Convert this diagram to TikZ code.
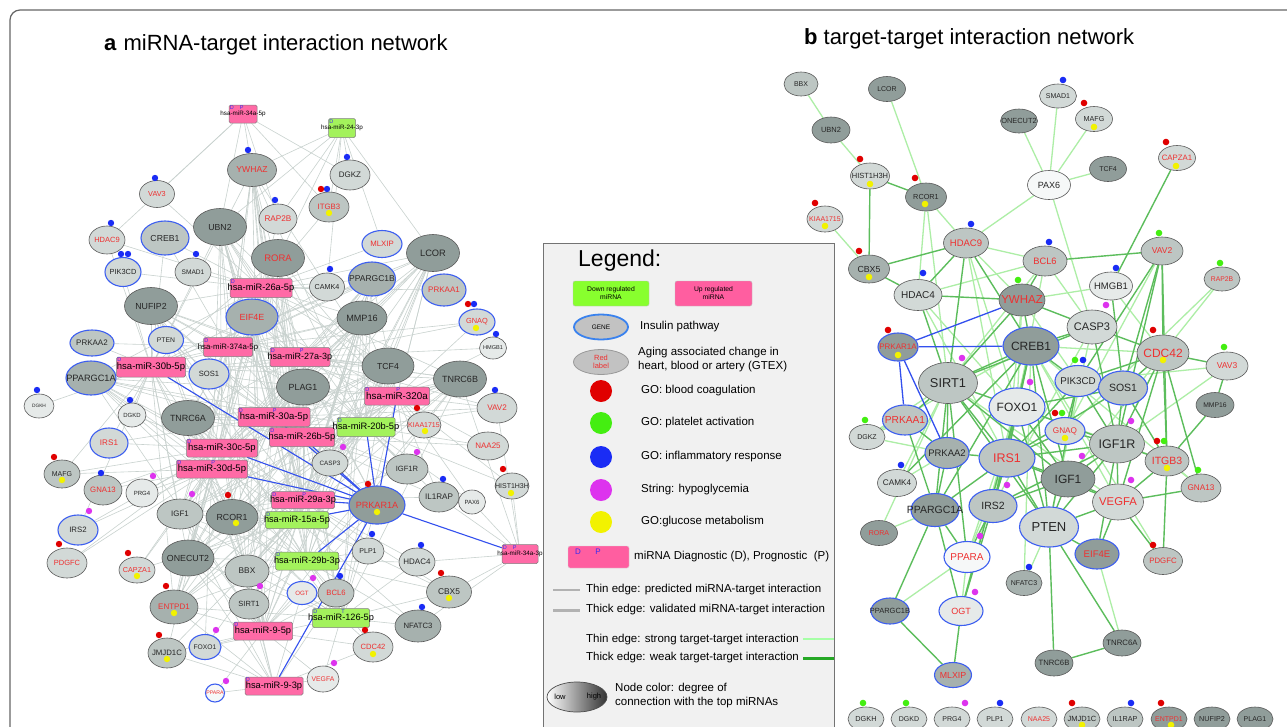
\documentclass[tikz,border=0pt]{standalone}
\usepackage{fontspec}
\setmainfont{Liberation Sans}
\usetikzlibrary{shapes.geometric,calc}
\pgfdeclarelayer{bg}
\pgfdeclarelayer{edges}
\pgfsetlayers{bg,edges,main}
\definecolor{g0}{HTML}{F6F8F8}
\definecolor{g1}{HTML}{E6EAE9}
\definecolor{g2}{HTML}{D2D9D7}
\definecolor{g3}{HTML}{BDC6C3}
\definecolor{g4}{HTML}{A6B1AE}
\definecolor{g5}{HTML}{909D9A}
\definecolor{insblue}{HTML}{3D5FF0}
\definecolor{insblue2}{HTML}{3A82EE}
\definecolor{agered}{HTML}{EE3030}
\definecolor{mpink}{HTML}{FF6AA6}
\definecolor{mgreen}{HTML}{A3F25C}
\definecolor{lpink}{HTML}{FF5EA0}
\definecolor{lgreen2}{HTML}{88FF2E}
\definecolor{lgray}{HTML}{C2C2C2}
\definecolor{legbg}{HTML}{F1F1F1}
\definecolor{dpblue}{HTML}{3A2CF0}
\definecolor{cR}{HTML}{E00000}
\definecolor{cG}{HTML}{44EE11}
\definecolor{cB}{HTML}{1A2CF5}
\definecolor{cM}{HTML}{DD33EE}
\definecolor{cY}{HTML}{F2F200}
\definecolor{gE}{HTML}{C9D2CF}
\definecolor{bE}{HTML}{3350EE}
\definecolor{lgE}{HTML}{ADEEA6}
\definecolor{dgE}{HTML}{5CBD5C}
\newcommand{\nlbl}[1]{\makebox[0pt]{#1}}
\begin{document}
\begin{tikzpicture}[x=1pt,y=-1pt,
  gene/.style={ellipse, draw=black!65, line width=0.6pt, inner sep=0pt, text=black!85},
  ins/.style={draw=insblue, line width=1.1pt},
  age/.style={text=agered},
  fs/.style={font=\fontsize{#1}{#1}\selectfont},
  wh/.style 2 args={minimum width=#1, minimum height=#2},
  mir/.style={rectangle, rounded corners=1.5pt, draw=black!50, line width=0.5pt, inner sep=0pt, text=black},
  mup/.style={mir, fill=mpink},
  mdown/.style={mir, fill=mgreen},
  dpl/.style={anchor=north west, text=dpblue, font=\fontsize{5.5}{5.5}\selectfont, inner sep=0.8pt},
  dl/.style={label={[dpl]north west:D}},
  pl/.style={label={[dpl, xshift=#1]north west:P}},
  tml/.style={label={[dpl, xshift=#1]north west:T}},
  gedge/.style={draw=gE, line width=0.6pt},
  bedge/.style={draw=bE, line width=1.1pt},
  lgr/.style={draw=lgE, line width=1.3pt},
  dgr/.style={draw=dgE, line width=1.4pt},
  leg/.style={anchor=west, font=\fontsize{11.5}{14}\selectfont, inner sep=0pt, align=left},
  ttl/.style={anchor=west, font=\fontsize{22}{22}\selectfont, inner sep=0pt}
]
\useasboundingbox (0,0) rectangle (1287,726);
\begin{pgfonlayer}{bg}
\fill[white] (0,0) rectangle (1287,726);
\end{pgfonlayer}
\draw[black!60, line width=1.2pt, rounded corners=10pt] (10,740) -- (10,10) -- (1300,10);

% titles
\node[ttl] (ta) at (104,45) {\textbf{a}\hspace{7pt}miRNA-target interaction network};
\node[ttl] (tb) at (804,39) {\textbf{b}\hspace{6pt}target-target interaction network};

% ================= PANEL A genes =================
\node[gene, fill=g4, wh={49}{33}, fs=8.6, age] (aYWHAZ) at (252,170) {\nlbl{YWHAZ}};
\node[gene, fill=g2, wh={35}{27}, fs=7.3, age] (aVAV3) at (157,194) {\nlbl{VAV3}};
\node[gene, fill=g5, wh={53}{37}, fs=8.7] (aUBN2) at (220,227) {\nlbl{UBN2}};
\node[gene, fill=g2, wh={38}{30}, fs=8.2, age] (aRAP2B) at (278,219) {\nlbl{RAP2B}};
\node[gene, fill=g2, wh={36}{28}, fs=7.5, age] (aHDAC9) at (107,240) {\nlbl{HDAC9}};
\node[gene, fill=g3, wh={48}{34}, fs=8.7, ins] (aCREB1) at (165,238) {\nlbl{CREB1}};
\node[gene, fill=g5, wh={53}{37}, fs=9.5, age] (aRORA) at (278,258) {\nlbl{RORA}};
\node[gene, fill=g2, wh={36}{29}, fs=7.4, ins] (aPIK3CD) at (123,272) {\nlbl{PIK3CD}};
\node[gene, fill=g2, wh={36}{28}, fs=6.6] (aSMAD1) at (193,272) {\nlbl{SMAD1}};
\node[gene, fill=g5, wh={53}{37}, fs=8.8] (aNUFIP2) at (151,306) {\nlbl{NUFIP2}};
\node[gene, fill=g2, wh={40}{30}, fs=8] (aDGKZ) at (350,175) {\nlbl{DGKZ}};
\node[gene, fill=g3, wh={40}{30}, fs=7.8, age] (aITGB3) at (329,207) {\nlbl{ITGB3}};
\node[gene, fill=g2, wh={40}{27}, fs=7.8, age, ins] (aMLXIP) at (382,244) {\nlbl{MLXIP}};
\node[gene, fill=g5, wh={53}{37}, fs=9.3] (aLCOR) at (433,253) {\nlbl{LCOR}};
\node[gene, fill=g2, wh={35}{28}, fs=7.2] (aCAMK4) at (327,287) {\nlbl{CAMK4}};
\node[gene, fill=g4, wh={47}{34}, fs=8.5, ins] (aPPARGC1B) at (372,279) {\nlbl{PPARGC1B}};
\node[gene, fill=g3, wh={44}{32}, fs=8, age, ins] (aPRKAA1) at (444,290) {\nlbl{PRKAA1}};
\node[gene, fill=g4, wh={52}{36}, fs=8.9, age, ins] (aEIF4E) at (252,317) {\nlbl{EIF4E}};
\node[gene, fill=g2, wh={35}{27}, fs=6.8, ins] (aPTEN) at (166,340) {\nlbl{PTEN}};
\node[gene, fill=g3, wh={44}{26}, fs=8, ins] (aPRKAA2) at (92,343) {\nlbl{PRKAA2}};
\node[gene, fill=g4, wh={50}{34}, fs=9.2, ins] (aPPARGC1A) at (91,378) {\nlbl{PPARGC1A}};
\node[gene, fill=g2, wh={40}{30}, fs=7.6, ins] (aSOS1) at (209,374) {\nlbl{SOS1}};
\node[gene, fill=g1, wh={30}{24}, fs=4.8] (aDGKH) at (39,406) {\nlbl{DGKH}};
\node[gene, fill=g1, wh={28}{24}, fs=6] (aDGKD) at (132,415) {\nlbl{DGKD}};
\node[gene, fill=g5, wh={53}{35}, fs=9] (aTNRC6A) at (188,418) {\nlbl{TNRC6A}};
\node[gene, fill=g2, wh={38}{30}, fs=8.1, age, ins] (aIRS1) at (109,443) {\nlbl{IRS1}};
\node[gene, fill=g3, wh={36}{28}, fs=7] (aMAFG) at (62,474) {\nlbl{MAFG}};
\node[gene, fill=g3, wh={38}{30}, fs=7.8, age] (aGNA13) at (103,490) {\nlbl{GNA13}};
\node[gene, fill=g1, wh={32}{28}, fs=6] (aPRG4) at (142,493) {\nlbl{PRG4}};
\node[gene, fill=g3, wh={46}{30}, fs=7.9] (aIGF1) at (180,514) {\nlbl{IGF1}};
\node[gene, fill=g5, wh={52}{35}, fs=8.8] (aRCOR1) at (232,517) {\nlbl{RCOR1}};
\node[gene, fill=g5, wh={50}{34}, fs=9.1] (aMMP16) at (362,318) {\nlbl{MMP16}};
\node[gene, fill=g2, wh={36}{26}, fs=7.4, age, ins] (aGNAQ) at (477,322) {\nlbl{GNAQ}};
\node[gene, fill=g1, wh={27}{22}, fs=5.6] (aHMGB1) at (493,348) {\nlbl{HMGB1}};
\node[gene, fill=g5, wh={52}{36}, fs=8.7] (aTCF4) at (388,366) {\nlbl{TCF4}};
\node[gene, fill=g5, wh={53}{36}, fs=8.9] (aPLAG1) at (303,387) {\nlbl{PLAG1}};
\node[gene, fill=g5, wh={53}{36}, fs=9] (aTNRC6B) at (460,379) {\nlbl{TNRC6B}};
\node[gene, fill=g2, wh={40}{30}, fs=8.1, age] (aVAV2) at (497,408) {\nlbl{VAV2}};
\node[gene, fill=g2, wh={34}{26}, fs=7, age] (aKIAA1715) at (424,425) {\nlbl{KIAA1715}};
\node[gene, fill=g2, wh={41}{28}, fs=8, age] (aNAA25) at (488,446) {\nlbl{NAA25}};
\node[gene, fill=g2, wh={36}{26}, fs=6.3] (aCASP3) at (330,463) {\nlbl{CASP3}};
\node[gene, fill=g3, wh={42}{30}, fs=7.6] (aIGF1R) at (407,469) {\nlbl{IGF1R}};
\node[gene, fill=g3, wh={40}{30}, fs=8.1] (aIL1RAP) at (439,497) {\nlbl{IL1RAP}};
\node[gene, fill=g1, wh={27}{24}, fs=6] (aPAX6) at (472,502) {\nlbl{PAX6}};
\node[gene, fill=g2, wh={34}{26}, fs=7] (aHIST1H3H) at (512,486) {\nlbl{HIST1H3H}};
\node[gene, fill=g5, wh={56}{38}, fs=9.1, age, ins] (aPRKAR1A) at (377,505) {\nlbl{PRKAR1A}};
\node[gene, fill=g2, wh={40}{30}, fs=7.8, ins] (aIRS2) at (78,530) {\nlbl{IRS2}};
\node[gene, fill=g2, wh={40}{30}, fs=7.5, age] (aPDGFC) at (67,563) {\nlbl{PDGFC}};
\node[gene, fill=g2, wh={36}{26}, fs=7.2, age] (aCAPZA1) at (137,570) {\nlbl{CAPZA1}};
\node[gene, fill=g5, wh={52}{36}, fs=8.8] (aONECUT2) at (188,558) {\nlbl{ONECUT2}};
\node[gene, fill=g3, wh={44}{32}, fs=8.3] (aBBX) at (247,571) {\nlbl{BBX}};
\node[gene, fill=g4, wh={48}{34}, fs=8, age] (aENTPD1) at (174,607) {\nlbl{ENTPD1}};
\node[gene, fill=g3, wh={40}{30}, fs=7.5] (aSIRT1) at (249,604) {\nlbl{SIRT1}};
\node[gene, fill=g3, wh={38}{30}, fs=7.8] (aJMJD1C) at (167,653) {\nlbl{JMJD1C}};
\node[gene, fill=g2, wh={32}{25}, fs=6.7, ins] (aFOXO1) at (205,647) {\nlbl{FOXO1}};
\node[gene, fill=g0, wh={19}{18}, fs=5.2, age, ins] (aPPARA) at (215,693) {\nlbl{PPARA}};
\node[gene, fill=g2, wh={32}{26}, fs=7] (aPLP1) at (368,551) {\nlbl{PLP1}};
\node[gene, fill=g2, wh={36}{28}, fs=8] (aHDAC4) at (417,562) {\nlbl{HDAC4}};
\node[gene, fill=g3, wh={45}{32}, fs=8.4] (aCBX5) at (449,592) {\nlbl{CBX5}};
\node[gene, fill=g1, wh={30}{23}, fs=6.2, age, ins] (aOGT) at (302,593) {\nlbl{OGT}};
\node[gene, fill=g3, wh={36}{28}, fs=7.7, age] (aBCL6) at (336,593) {\nlbl{BCL6}};
\node[gene, fill=g4, wh={46}{32}, fs=7.7] (aNFATC3) at (418,626) {\nlbl{NFATC3}};
\node[gene, fill=g2, wh={40}{30}, fs=7.6, age] (aCDC42) at (373,647) {\nlbl{CDC42}};
\node[gene, fill=g1, wh={32}{26}, fs=6.8, age] (aVEGFA) at (323,679) {\nlbl{VEGFA}};

% ================= PANEL A miRNAs =================
\node[mup, wh={28}{18}, fs=6.3, dl, pl=10pt] (m34a5p) at (243,114) {\nlbl{hsa-miR-34a-5p}};
\node[mdown, wh={27}{19}, fs=6.3, dl] (m243p) at (342,128) {\nlbl{hsa-miR-24-3p}};
\node[mup, wh={62}{19}, fs=9.3, dl] (m26a) at (261,288) {\nlbl{hsa-miR-26a-5p}};
\node[mup, wh={49}{19}, fs=7.8, dl] (m374a) at (228,347) {\nlbl{hsa-miR-374a-5p}};
\node[mup, wh={69}{20}, fs=9.5, dl] (m30b) at (151,367) {\nlbl{hsa-miR-30b-5p}};
\node[mup, wh={60}{19}, fs=9, dl, pl=29pt] (m27a) at (300,357) {\nlbl{hsa-miR-27a-3p}};
\node[mup, wh={65}{18}, fs=9.8, dl, pl=31pt] (m320a) at (397,396) {\nlbl{hsa-miR-320a}};
\node[mup, wh={72}{19}, fs=9.5, dl, pl=34pt] (m30a) at (274,417) {\nlbl{hsa-miR-30a-5p}};
\node[mup, wh={65}{19}, fs=9.3, dl] (m26b) at (302,437) {\nlbl{hsa-miR-26b-5p}};
\node[mdown, wh={58}{19}, fs=9.3, dl] (m20b) at (366,427) {\nlbl{hsa-miR-20b-5p}};
\node[mup, wh={71}{18}, fs=9.5, dl] (m30c) at (222,448) {\nlbl{hsa-miR-30c-5p}};
\node[mup, wh={71}{18}, fs=9.5, dl, pl=34pt] (m30d) at (212,469) {\nlbl{hsa-miR-30d-5p}};
\node[mup, wh={63}{17}, fs=9.2, dl, pl=30pt] (m29a) at (303,500) {\nlbl{hsa-miR-29a-3p}};
\node[mdown, wh={63}{17}, fs=9.2, dl] (m15a) at (297,520) {\nlbl{hsa-miR-15a-5p}};
\node[mdown, wh={63}{18}, fs=9.2, dl] (m29b) at (307,561) {\nlbl{hsa-miR-29b-3p}};
\node[mup, wh={36}{19}, fs=6.3, dl, pl=10pt] (m34a3p) at (520,554) {\nlbl{hsa-miR-34a-3p}};
\node[mdown, wh={57}{19}, fs=9.2, dl, tml=28pt] (m126) at (341,618) {\nlbl{hsa-miR-126-5p}};
\node[mup, wh={59}{18}, fs=9.3, dl] (m95p) at (263,631) {\nlbl{hsa-miR-9-5p}};
\node[mup, wh={58}{18}, fs=9.3, dl] (m93p) at (274,686) {\nlbl{hsa-miR-9-3p}};

% ================= PANEL A edges =================
\def\Dset{aUBN2,aRORA,aNUFIP2,aLCOR,aYWHAZ,aMMP16,aTCF4,aPLAG1,aTNRC6B,aTNRC6A,aRCOR1,aONECUT2,aEIF4E,aPPARGC1A,aPPARGC1B,aENTPD1,aBBX,aIGF1,aPRKAR1A}
\begin{pgfonlayer}{edges}
\foreach \m in {m26a,m374a,m30b,m27a,m320a,m30a,m26b,m20b,m30c,m30d,m29a,m15a,m29b,m126,m95p}{
  \foreach \t in \Dset {\draw[gedge] (\m) -- (\t);}
}
\foreach \t in {aCREB1,aSMAD1,aCAMK4,aRAP2B,aVAV3,aITGB3,aMLXIP,aHDAC9,aPIK3CD,aPRKAA1}{\draw[gedge] (m26a) -- (\t);}
\foreach \t in {aPTEN,aSOS1,aPRKAA2,aCAMK4,aCREB1,aGNAQ}{\draw[gedge] (m374a) -- (\t);}
\foreach \t in {aPRKAA2,aDGKH,aDGKD,aIRS1,aPTEN,aSOS1,aCREB1,aPIK3CD,aHDAC9,aMAFG,aIRS2}{\draw[gedge] (m30b) -- (\t);}
\foreach \t in {aGNAQ,aHMGB1,aVAV2,aKIAA1715,aSOS1,aCASP3,aIGF1R}{\draw[gedge] (m27a) -- (\t);}
\foreach \t in {aVAV2,aKIAA1715,aNAA25,aHIST1H3H,aGNAQ,aHMGB1,aIL1RAP,aPAX6,aIGF1R}{\draw[gedge] (m320a) -- (\t);}
\foreach \t in {aCASP3,aSOS1,aIRS1,aIGF1R,aVAV2}{\draw[gedge] (m30a) -- (\t);}
\foreach \t in {aCASP3,aIGF1R,aIL1RAP,aNAA25,aPTEN}{\draw[gedge] (m26b) -- (\t);}
\foreach \t in {aKIAA1715,aIGF1R,aIL1RAP,aCASP3,aNAA25,aVAV2,aHIST1H3H,aPAX6}{\draw[gedge] (m20b) -- (\t);}
\foreach \t in {aIRS1,aGNA13,aPRG4,aMAFG,aDGKD,aIRS2,aCAPZA1,aPDGFC}{\draw[gedge] (m30c) -- (\t);}
\foreach \t in {aGNA13,aPRG4,aIRS2,aPDGFC,aCAPZA1,aJMJD1C,aFOXO1,aMAFG}{\draw[gedge] (m30d) -- (\t);}
\foreach \t in {aCASP3,aIGF1R,aPLP1,aHDAC4,aSIRT1,aCBX5,aIL1RAP}{\draw[gedge] (m29a) -- (\t);}
\foreach \t in {aSIRT1,aPLP1,aCAPZA1,aJMJD1C,aFOXO1,aCBX5,aNFATC3}{\draw[gedge] (m15a) -- (\t);}
\foreach \t in {aPLP1,aHDAC4,aCBX5,aNFATC3,aCDC42,aSIRT1,aBCL6}{\draw[gedge] (m29b) -- (\t);}
\foreach \t in {aBCL6,aOGT,aCDC42,aVEGFA,aNFATC3,aCBX5,aHDAC4,aFOXO1}{\draw[gedge] (m126) -- (\t);}
\foreach \t in {aFOXO1,aJMJD1C,aSIRT1,aOGT,aBCL6,aVEGFA,aCDC42,aPPARA}{\draw[gedge] (m95p) -- (\t);}
\foreach \t in {aVEGFA,aPPARA,aFOXO1,aSIRT1,aBCL6,aOGT,aJMJD1C,aBBX,aONECUT2,aENTPD1,aCDC42,aRCOR1,aIGF1}{\draw[gedge] (m93p) -- (\t);}
\foreach \t in {aVAV3,aYWHAZ,aRAP2B,aITGB3,aDGKZ,aUBN2,aHDAC9}{\draw[gedge] (m34a5p) -- (\t);}
\foreach \t in {aYWHAZ,aDGKZ,aITGB3,aRAP2B,aCAMK4,aLCOR,aRORA,aUBN2,aMLXIP}{\draw[gedge] (m243p) -- (\t);}
\foreach \t in {aHIST1H3H,aPAX6,aCBX5,aHDAC4,aNFATC3,aIL1RAP,aTNRC6B,aVAV2}{\draw[gedge] (m34a3p) -- (\t);}
\foreach \m in {m30b,m30a,m26b,m30c,m30d,m29a,m15a,m29b,m20b,m320a,m34a3p,m93p}{\draw[bedge] (\m) -- (aPRKAR1A);}
\end{pgfonlayer}

% ================= PANEL A dots =================
\foreach \x/\y in {248/150,155/178,275/200,111/223,121/254,128/254,196/254,347/157,327/189,330/269,474/304,496/334,37/390,130/400,101/473,495/390,443/479,372/534,421/545,340/576,422/607}{\fill[cB] (\x,\y) circle (3.2);}
\foreach \x/\y in {321/189,468/304,54/457,228/495,417/408,503/469,368/484,59/544,128/553,166/586,159/635,441/573,365/630}{\fill[cR] (\x,\y) circle (3.2);}
\foreach \x/\y in {153/476,192/494,343/447,417/452,89/511,260/586,216/630,226/681,313/578,334/663}{\fill[cM] (\x,\y) circle (3.2);}
\foreach \x/\y in {329/213,476/328,62/480,236/523,425/431,511/493,377/512,137/576,174/613,167/659,449/598,373/654}{\fill[cY] (\x,\y) circle (3.2);}

% ================= LEGEND =================
\draw[draw=black!55, fill=legbg, line width=0.8pt] (543,243) rectangle (834,745);
\node[anchor=west, inner sep=0pt, font=\fontsize{23}{23}\selectfont] (lgT) at (578,261) {Legend:};
\node[rectangle, rounded corners=2pt, fill=lgreen2, draw=black!25, minimum width=76, minimum height=25, align=center, inner sep=0pt, font=\fontsize{6.8}{8}\selectfont] (lgDown) at (611,293.5) {Down regulated\\miRNA};
\node[rectangle, rounded corners=2pt, fill=lpink, draw=black!25, minimum width=77, minimum height=25, align=center, inner sep=0pt, font=\fontsize{6.8}{8}\selectfont] (lgUp) at (713.5,293.5) {Up regulated\\miRNA};
\node[ellipse, fill=lgray, draw=insblue2, line width=1.8pt, minimum width=54, minimum height=25, inner sep=0pt, fs=6.5] (lgGene) at (601,327) {GENE};
\node[leg] (lgIns) at (640,327) {Insulin pathway};
\node[ellipse, fill=lgray, draw=black!40, line width=0.8pt, minimum width=55, minimum height=25, inner sep=0pt, align=center, text=agered, font=\fontsize{7.5}{8.5}\selectfont] (lgRed) at (601,362) {Red\\label};
\node[leg] (lgAge) at (638,360) {Aging associated change in\\heart, blood or artery (GTEX)};
\fill[cR] (601,391) circle (11);
\fill[cG] (601,423) circle (11);
\fill[cB] (601,457) circle (11);
\fill[cM] (601,490) circle (11);
\fill[cY] (601,522) circle (11);
\node[leg] (lgRd) at (641,391) {GO: blood coagulation};
\node[leg] (lgGr) at (641,423) {GO: platelet activation};
\node[leg] (lgBl) at (641,457) {GO: inflammatory response};
\node[leg] (lgMg) at (641,490) {String: hypoglycemia};
\node[leg] (lgYl) at (641,522) {GO:glucose metabolism};
\node[rectangle, rounded corners=2pt, fill=lpink, draw=black!15, minimum width=61, minimum height=22, inner sep=0pt] (lgDP) at (598.5,557) {};
\node[text=dpblue, inner sep=0pt, fs=8] (lgD) at (578,552) {D};
\node[text=dpblue, inner sep=0pt, fs=8] (lgP) at (598,552) {P};
\node[leg] (lgDPt) at (634,557) {miRNA Diagnostic (D), Prognostic\ \ (P)};
\coordinate (l1a) at (553,590); \coordinate (l1b) at (580,590);
\coordinate (l2a) at (553,610); \coordinate (l2b) at (580,610);
\coordinate (l3a) at (803,639); \coordinate (l3b) at (834,639);
\coordinate (l4a) at (803,658); \coordinate (l4b) at (834,658);
\draw[draw=black!30, line width=1.2pt] (l1a) -- (l1b);
\draw[draw=black!30, line width=3pt] (l2a) -- (l2b);
\draw[draw=green!35, line width=1.5pt] (l3a) -- (l3b);
\draw[draw=green!60!black!85, line width=3pt] (l4a) -- (l4b);
\node[leg] (lgThin) at (586,590) {Thin edge: predicted miRNA-target interaction};
\node[leg] (lgThick) at (586,610) {Thick edge: validated miRNA-target interaction};
\node[leg] (lgStrong) at (586,640) {Thin edge: strong target-target interaction};
\node[leg] (lgWeak) at (586,658) {Thick edge: weak target-target interaction};
\node[ellipse, draw=black!70, line width=0.7pt, left color=white, right color=black!80, minimum width=60, minimum height=30, inner sep=0pt] (lgGrad) at (577,697) {};
\node[inner sep=0pt, fs=7.5] (lgLow) at (560,697) {low};
\node[inner sep=0pt, fs=7.5] (lgHigh) at (594,697) {high};
\node[leg] (lgNode) at (615,696) {Node color: degree of\\connection with the top miRNAs};

% ================= PANEL B genes =================
\node[gene, fill=g3, wh={34}{24}, fs=7] (bBBX) at (801,84) {\nlbl{BBX}};
\node[gene, fill=g5, wh={37}{25}, fs=7] (bLCOR) at (887,89) {\nlbl{LCOR}};
\node[gene, fill=g5, wh={38}{26}, fs=7.5] (bUBN2) at (831,130) {\nlbl{UBN2}};
\node[gene, fill=g2, wh={37}{24}, fs=7] (bSMAD1) at (1058,96) {\nlbl{SMAD1}};
\node[gene, fill=g5, wh={37}{24}, fs=7.4] (bONECUT2) at (1019,121) {\nlbl{ONECUT2}};
\node[gene, fill=g2, wh={37}{25}, fs=7.2] (bMAFG) at (1094,119) {\nlbl{MAFG}};
\node[gene, fill=g2, wh={39}{26}, fs=7.5] (bHIST1H3H) at (870,176) {\nlbl{HIST1H3H}};
\node[gene, fill=g5, wh={41}{28}, fs=7.3] (bRCOR1) at (926,197) {\nlbl{RCOR1}};
\node[gene, fill=g0, wh={43}{29}, fs=9] (bPAX6) at (1049,185) {\nlbl{PAX6}};
\node[gene, fill=g5, wh={37}{25}, fs=7] (bTCF4) at (1108,169) {\nlbl{TCF4}};
\node[gene, fill=g2, wh={37}{25}, fs=7.8, age] (bCAPZA1) at (1177,158) {\nlbl{CAPZA1}};
\node[gene, fill=g2, wh={36}{26}, fs=7, age] (bKIAA1715) at (825,219) {\nlbl{KIAA1715}};
\node[gene, fill=g3, wh={45}{30}, fs=9.5, age] (bHDAC9) at (966,243) {\nlbl{HDAC9}};
\node[gene, fill=g4, wh={41}{28}, fs=8.8] (bCBX5) at (869,269) {\nlbl{CBX5}};
\node[gene, fill=g3, wh={44}{30}, fs=9.3, age] (bBCL6) at (1045,261) {\nlbl{BCL6}};
\node[gene, fill=g3, wh={42}{28}, fs=8.5, age] (bVAV2) at (1162,251) {\nlbl{VAV2}};
\node[gene, fill=g1, wh={43}{28}, fs=9.5] (bHMGB1) at (1111,286) {\nlbl{HMGB1}};
\node[gene, fill=g3, wh={36}{24}, fs=6.8, age] (bRAP2B) at (1222,279) {\nlbl{RAP2B}};
\node[gene, fill=g2, wh={48}{31}, fs=10] (bHDAC4) at (918,295) {\nlbl{HDAC4}};
\node[gene, fill=g5, wh={46}{32}, fs=11.5, age] (bYWHAZ) at (1022,300) {\nlbl{YWHAZ}};
\node[gene, fill=g2, wh={50}{34}, fs=11] (bCASP3) at (1092,327) {\nlbl{CASP3}};
\node[gene, fill=g5, wh={40}{28}, fs=8, age, ins] (bPRKAR1A) at (898,347) {\nlbl{PRKAR1A}};
\node[gene, fill=g5, wh={56}{38}, fs=12, ins] (bCREB1) at (1031,346) {\nlbl{CREB1}};
\node[gene, fill=g3, wh={52}{36}, fs=12, age] (bCDC42) at (1163,353) {\nlbl{CDC42}};
\node[gene, fill=g2, wh={42}{28}, fs=8.5, age] (bVAV3) at (1227,366) {\nlbl{VAV3}};
\node[gene, fill=g3, wh={59}{41}, fs=12.8] (bSIRT1) at (948,383) {\nlbl{SIRT1}};
\node[gene, fill=g2, wh={46}{31}, fs=9.8, ins] (bPIK3CD) at (1078,381) {\nlbl{PIK3CD}};
\node[gene, fill=g3, wh={49}{34}, fs=10.5, ins] (bSOS1) at (1123,388) {\nlbl{SOS1}};
\node[gene, fill=g1, wh={56}{38}, fs=12, ins] (bFOXO1) at (1017,407) {\nlbl{FOXO1}};
\node[gene, fill=g5, wh={38}{25}, fs=6.8] (bMMP16) at (1215,405) {\nlbl{MMP16}};
\node[gene, fill=g3, wh={45}{30}, fs=10.2, age, ins] (bPRKAA1) at (905,420) {\nlbl{PRKAA1}};
\node[gene, fill=g2, wh={36}{25}, fs=7] (bDGKZ) at (867,437) {\nlbl{DGKZ}};
\node[gene, fill=g2, wh={40}{27}, fs=8.2, age, ins] (bGNAQ) at (1065,431) {\nlbl{GNAQ}};
\node[gene, fill=g3, wh={55}{38}, fs=12.5] (bIGF1R) at (1117,444) {\nlbl{IGF1R}};
\node[gene, fill=g4, wh={44}{31}, fs=9.5, ins] (bPRKAA2) at (947,453) {\nlbl{PRKAA2}};
\node[gene, fill=g3, wh={56}{38}, fs=12.5, age, ins] (bIRS1) at (1007,458) {\nlbl{IRS1}};
\node[gene, fill=g3, wh={44}{30}, fs=10.5, age] (bITGB3) at (1167,461) {\nlbl{ITGB3}};
\node[gene, fill=g5, wh={54}{36}, fs=12] (bIGF1) at (1068,479) {\nlbl{IGF1}};
\node[gene, fill=g2, wh={39}{27}, fs=8.2] (bCAMK4) at (897,483) {\nlbl{CAMK4}};
\node[gene, fill=g3, wh={40}{28}, fs=8.2, age] (bGNA13) at (1201,488) {\nlbl{GNA13}};
\node[gene, fill=g2, wh={51}{36}, fs=11.3, age] (bVEGFA) at (1118,502) {\nlbl{VEGFA}};
\node[gene, fill=g5, wh={48}{33}, fs=10.5, ins] (bPPARGC1A) at (935,510) {\nlbl{PPARGC1A}};
\node[gene, fill=g3, wh={48}{33}, fs=10.5, ins] (bIRS2) at (993,506) {\nlbl{IRS2}};
\node[gene, fill=g2, wh={59}{40}, fs=13, ins] (bPTEN) at (1049,527) {\nlbl{PTEN}};
\node[gene, fill=g5, wh={37}{25}, fs=7, age] (bRORA) at (879,533) {\nlbl{RORA}};
\node[gene, fill=g0, wh={46}{31}, fs=10, age, ins] (bPPARA) at (967,557) {\nlbl{PPARA}};
\node[gene, fill=g5, wh={44}{30}, fs=9.6, age, ins] (bEIF4E) at (1097,554) {\nlbl{EIF4E}};
\node[gene, fill=g3, wh={39}{27}, fs=7.8, age] (bPDGFC) at (1163,561) {\nlbl{PDGFC}};
\node[gene, fill=g4, wh={36}{25}, fs=7] (bNFATC3) at (1024,583) {\nlbl{NFATC3}};
\node[gene, fill=g5, wh={38}{26}, fs=7.5, ins] (bPPARGC1B) at (890,611) {\nlbl{PPARGC1B}};
\node[gene, fill=g1, wh={44}{29}, fs=9, age, ins] (bOGT) at (961,611) {\nlbl{OGT}};
\node[gene, fill=g5, wh={38}{26}, fs=7.8] (bTNRC6A) at (1122,643) {\nlbl{TNRC6A}};
\node[gene, fill=g5, wh={38}{26}, fs=7.7] (bTNRC6B) at (1054,663) {\nlbl{TNRC6B}};
\node[gene, fill=g4, wh={37}{25}, fs=8.8, age, ins] (bMLXIP) at (953,675) {\nlbl{MLXIP}};
\node[gene, fill=g2, wh={36}{24}, fs=7.3] (bDGKH) at (866,719) {\nlbl{DGKH}};
\node[gene, fill=g2, wh={36}{24}, fs=7] (bDGKD) at (909,719) {\nlbl{DGKD}};
\node[gene, fill=g2, wh={36}{24}, fs=7] (bPRG4) at (952,719) {\nlbl{PRG4}};
\node[gene, fill=g2, wh={36}{24}, fs=7] (bPLP1) at (995,719) {\nlbl{PLP1}};
\node[gene, fill=g2, wh={36}{24}, fs=7, age] (bNAA25) at (1039,719) {\nlbl{NAA25}};
\node[gene, fill=g3, wh={36}{24}, fs=7.5] (bJMJD1C) at (1082,719) {\nlbl{JMJD1C}};
\node[gene, fill=g3, wh={36}{24}, fs=7.2] (bIL1RAP) at (1125,719) {\nlbl{IL1RAP}};
\node[gene, fill=g5, wh={36}{24}, fs=7, age] (bENTPD1) at (1169,719) {\nlbl{ENTPD1}};
\node[gene, fill=g5, wh={36}{24}, fs=7.2] (bNUFIP2) at (1212,719) {\nlbl{NUFIP2}};
\node[gene, fill=g5, wh={36}{24}, fs=7] (bPLAG1) at (1255,719) {\nlbl{PLAG1}};

% ================= PANEL B edges =================
\begin{pgfonlayer}{edges}
\foreach \a/\b in {bBBX/bUBN2,bUBN2/bHIST1H3H,bLCOR/bRCOR1,bKIAA1715/bCBX5,bONECUT2/bPAX6,bSMAD1/bPAX6,bMAFG/bPAX6,bTCF4/bPAX6,bPAX6/bHDAC9,bPAX6/bCASP3,bRCOR1/bHDAC9,bRCOR1/bHDAC4,bRCOR1/bSIRT1,bBCL6/bHDAC4,bHDAC9/bBCL6,bHDAC9/bYWHAZ,bHDAC9/bFOXO1,bHDAC9/bIRS1,bRAP2B/bCDC42,bRAP2B/bGNAQ,bHMGB1/bCDC42,bHMGB1/bYWHAZ,bYWHAZ/bFOXO1,bYWHAZ/bIRS1,bDGKZ/bCREB1,bDGKZ/bSIRT1,bCAMK4/bSIRT1,bRORA/bSIRT1,bRORA/bPPARGC1A,bNFATC3/bCREB1,bEIF4E/bTNRC6A,bPPARA/bPPARGC1B,bPPARA/bIRS1,bPPARA/bFOXO1,bOGT/bCREB1,bGNA13/bCREB1,bPDGFC/bCREB1,bVAV3/bPIK3CD,bVAV3/bIGF1R,bCASP3/bPTEN,bCASP3/bIRS2,bBCL6/bSIRT1,bBCL6/bFOXO1,bBCL6/bCASP3,bHDAC4/bFOXO1,bHDAC4/bIRS1,bPRKAA1/bDGKZ,bSIRT1/bVEGFA,bCREB1/bVEGFA,bCREB1/bCDC42,bYWHAZ/bPIK3CD,bPPARA/bOGT,bCDC42/bIGF1,bITGB3/bGNA13,bPRKAA2/bCAMK4,bITGB3/bFOXO1,bVAV2/bGNAQ,bNFATC3/bPTEN,bDGKZ/bPRKAA2}{\draw[lgr] (\a) -- (\b);}
\foreach \a/\b in {bHIST1H3H/bRCOR1,bHIST1H3H/bCBX5,bCBX5/bHDAC9,bCBX5/bHDAC4,bHDAC9/bHDAC4,bBCL6/bVAV2,bBCL6/bYWHAZ,bHDAC9/bSIRT1,bHDAC4/bSIRT1,bHDAC4/bYWHAZ,bCAPZA1/bHMGB1,bVAV2/bSOS1,bVAV2/bCDC42,bVAV2/bITGB3,bVAV2/bIGF1R,bVAV3/bCDC42,bVAV3/bMMP16,bMMP16/bITGB3,bCDC42/bSOS1,bCDC42/bPIK3CD,bCDC42/bCASP3,bCDC42/bITGB3,bCDC42/bGNA13,bCDC42/bIGF1R,bCREB1/bSIRT1,bCREB1/bFOXO1,bCREB1/bIRS1,bCREB1/bPIK3CD,bCREB1/bYWHAZ,bCREB1/bCASP3,bCREB1/bIGF1,bCREB1/bPTEN,bCREB1/bPPARGC1A,bCREB1/bIRS2,bSIRT1/bFOXO1,bSIRT1/bPPARGC1A,bSIRT1/bIRS1,bSIRT1/bPRKAA1,bSIRT1/bPRKAA2,bSIRT1/bPTEN,bSIRT1/bIGF1,bFOXO1/bIRS1,bFOXO1/bIGF1R,bFOXO1/bIRS2,bFOXO1/bPTEN,bFOXO1/bIGF1,bFOXO1/bSOS1,bIRS1/bIGF1R,bIRS1/bIGF1,bIRS1/bPIK3CD,bIRS1/bSOS1,bIRS1/bIRS2,bIRS1/bPTEN,bIRS1/bPPARGC1A,bIRS1/bVEGFA,bIGF1R/bIGF1,bIGF1R/bSOS1,bIGF1R/bPIK3CD,bIGF1R/bITGB3,bIGF1R/bVEGFA,bIGF1R/bPTEN,bIGF1R/bIRS2,bIGF1/bVEGFA,bIGF1/bPTEN,bIGF1/bIRS2,bVEGFA/bPTEN,bVEGFA/bITGB3,bVEGFA/bPDGFC,bVEGFA/bEIF4E,bVEGFA/bGNA13,bPTEN/bEIF4E,bPTEN/bTNRC6B,bPTEN/bTNRC6A,bPTEN/bPIK3CD,bTNRC6A/bTNRC6B,bPPARGC1B/bMLXIP,bOGT/bMLXIP,bPPARGC1A/bPPARGC1B,bPPARGC1A/bPPARA,bPPARGC1A/bOGT,bPPARGC1A/bPRKAA1,bPPARGC1A/bPRKAA2,bPRKAA1/bPRKAA2,bPRKAA2/bIRS1,bCAMK4/bCREB1,bPPARA/bSIRT1,bOGT/bIRS1,bOGT/bFOXO1,bGNAQ/bPIK3CD,bGNAQ/bIGF1R,bSOS1/bPIK3CD,bSOS1/bITGB3,bCASP3/bYWHAZ,bCASP3/bSIRT1,bCASP3/bIGF1R,bHDAC9/bCREB1,bEIF4E/bIGF1R,bITGB3/bPDGFC,bHMGB1/bSOS1,bVAV2/bPIK3CD,bYWHAZ/bSIRT1,bPPARA/bIRS2,bGNAQ/bIRS1,bCDC42/bVEGFA}{\draw[dgr] (\a) -- (\b);}
\foreach \b in {bYWHAZ,bCREB1,bPRKAA1,bPRKAA2}{\draw[bedge, line width=1.3pt] (bPRKAR1A) -- (\b);}
\end{pgfonlayer}

% ================= PANEL B dots =================
\foreach \x/\y in {1063/80,971/224,1049/242,1116/268,923/273,1083/360,901/465,1029/567,1000/703,1131/703}{\fill[cB] (\x,\y) circle (3.3);}
\foreach \x/\y in {1084/103,860/159,915/178,1166/142,815/203,859/251,888/330,1153/330,1055/413,1157/441,1153/545,1072/703,1161/703}{\fill[cR] (\x,\y) circle (3.3);}
\foreach \x/\y in {1159/233,1220/263,1018/280,1224/347,1075/360,865/420,1062/413,1164/441,1198/470,863/703,906/703}{\fill[cG] (\x,\y) circle (3.3);}
\foreach \x/\y in {1106/305,962/358,1030/382,1131/421,1082/456,1131/480,1007/485,980/536,975/592,965/703}{\fill[cM] (\x,\y) circle (3.3);}
\foreach \x/\y in {1094/127,870/184,925/204,1176/166,825/226,869/277,898/355,1163/360,1065/438,1167/468,1082/725,1171/725}{\fill[cY] (\x,\y) circle (3.3);}
\end{tikzpicture}
\end{document}
